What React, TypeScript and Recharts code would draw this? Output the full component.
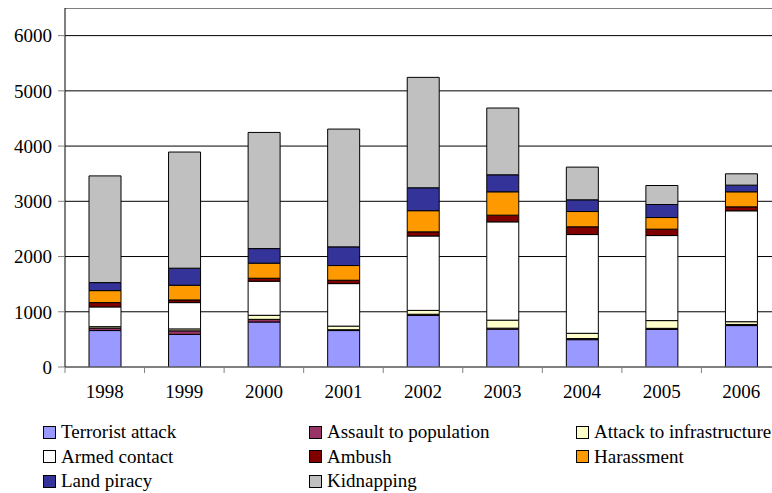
import { Bar, BarChart, CartesianGrid, XAxis, YAxis } from "recharts";

const YEARS = ["1998", "1999", "2000", "2001", "2002", "2003", "2004", "2005", "2006"];
const TERRORIST = [660, 590, 815, 660, 935, 685, 495, 680, 750];
const ASSAULT = [45, 65, 48, 15, 20, 18, 20, 20, 20];
const INFRASTRUCTURE = [25, 35, 73, 65, 70, 145, 95, 140, 50];
const ARMED = [358, 476, 617, 770, 1347, 1780, 1788, 1540, 2008];
const AMBUSH = [78, 48, 54, 61, 75, 121, 140, 116, 72];
const HARASSMENT = [217, 267, 273, 266, 383, 423, 277, 210, 272];
const LAND_PIRACY = [145, 308, 264, 338, 415, 308, 212, 236, 121];
const KIDNAPPING = [1932, 2103, 2103, 2133, 1999, 1209, 592, 344, 205];
const Y_TICKS = [0, 1000, 2000, 3000, 4000, 5000, 6000];

const SERIES = [
  { key: "terrorist", name: "Terrorist attack", color: "#9999FF", values: TERRORIST },
  { key: "assault", name: "Assault to population", color: "#993366", values: ASSAULT },
  { key: "infra", name: "Attack to infrastructure", color: "#FFFFCC", values: INFRASTRUCTURE },
  { key: "armed", name: "Armed contact", color: "#FFFFFF", values: ARMED },
  { key: "ambush", name: "Ambush", color: "#800000", values: AMBUSH },
  { key: "harassment", name: "Harassment", color: "#FF9900", values: HARASSMENT },
  { key: "piracy", name: "Land piracy", color: "#333399", values: LAND_PIRACY },
  { key: "kidnapping", name: "Kidnapping", color: "#C0C0C0", values: KIDNAPPING },
];

const data = YEARS.map((year, i) => {
  const row: Record<string, string | number> = { year };
  SERIES.forEach((s) => (row[s.key] = s.values[i]));
  return row;
});

const FONT =
  '"Liberation Serif", Tinos, "Times New Roman", Times, "Nimbus Roman", "Noto Serif", "DejaVu Serif", FreeSerif, serif';
const CHART_W = 773;
const PLOT_LEFT = 57;
const PLOT_W = CHART_W - PLOT_LEFT;
const BAND = PLOT_W / YEARS.length;

function YearTick(props: any) {
  const { x, y, payload, index } = props;
  return (
    <g>
      {index === 0 && <line x1={x - BAND / 2} x2={x - BAND / 2} y1={y} y2={y + 6} stroke="#808080" />}
      <line x1={x + BAND / 2} x2={x + BAND / 2} y1={y} y2={y + 6} stroke="#808080" />
      <text x={x} y={y} dy={31} textAnchor="middle" fontSize={19} style={{ fontFamily: FONT }} fill="#000">
        {payload.value}
      </text>
    </g>
  );
}

const LEGEND_COLS = [43, 309, 576];

function LegendBox() {
  return (
    <div style={{ position: "absolute", left: 0, top: 422, width: 772, fontFamily: FONT, fontSize: 19 }}>
      {SERIES.map((s, i) => (
        <div
          key={s.key}
          style={{
            position: "absolute",
            left: LEGEND_COLS[i % 3],
            top: Math.floor(i / 3) * 24.5,
            display: "flex",
            alignItems: "center",
            whiteSpace: "nowrap",
            lineHeight: "20px",
          }}
        >
          <span
            style={{
              display: "inline-block",
              width: 11,
              height: 11,
              background: s.color,
              border: "1px solid #000",
              marginRight: 5,
            }}
          />
          {s.name}
        </div>
      ))}
    </div>
  );
}

export default function App() {
  return (
    <div style={{ position: "fixed", left: 0, top: 0, width: 772, height: 493, overflow: "hidden", background: "#fff" }}>
      <div style={{ position: "absolute", left: 8, top: 8 }}>
        <BarChart
          width={CHART_W}
          height={485}
          data={data}
          margin={{ top: 0, right: 0, left: 0, bottom: 0 }}
          barSize={32}
        >
          <CartesianGrid horizontal vertical={false} stroke="#000" />
          <XAxis
            dataKey="year"
            height={126}
            tickLine={false}
            tickSize={0}
            tickMargin={0}
            axisLine={{ stroke: "#808080" }}
            tick={<YearTick />}
            interval={0}
          />
          <YAxis
            domain={[0, 6500]}
            ticks={Y_TICKS}
            width={PLOT_LEFT}
            allowDataOverflow
            axisLine={{ stroke: "#000" }}
            tickLine={{ stroke: "#808080" }}
            tickSize={7}
            tickMargin={6}
            tick={{ fontSize: 19, style: { fontFamily: FONT }, fill: "#000" }}
          />
          {SERIES.map((s) => (
            <Bar
              key={s.key}
              dataKey={s.key}
              name={s.name}
              stackId="a"
              fill={s.color}
              stroke="#000"
              strokeWidth={1}
              isAnimationActive={false}
            />
          ))}
        </BarChart>
      </div>
      <LegendBox />
    </div>
  );
}
